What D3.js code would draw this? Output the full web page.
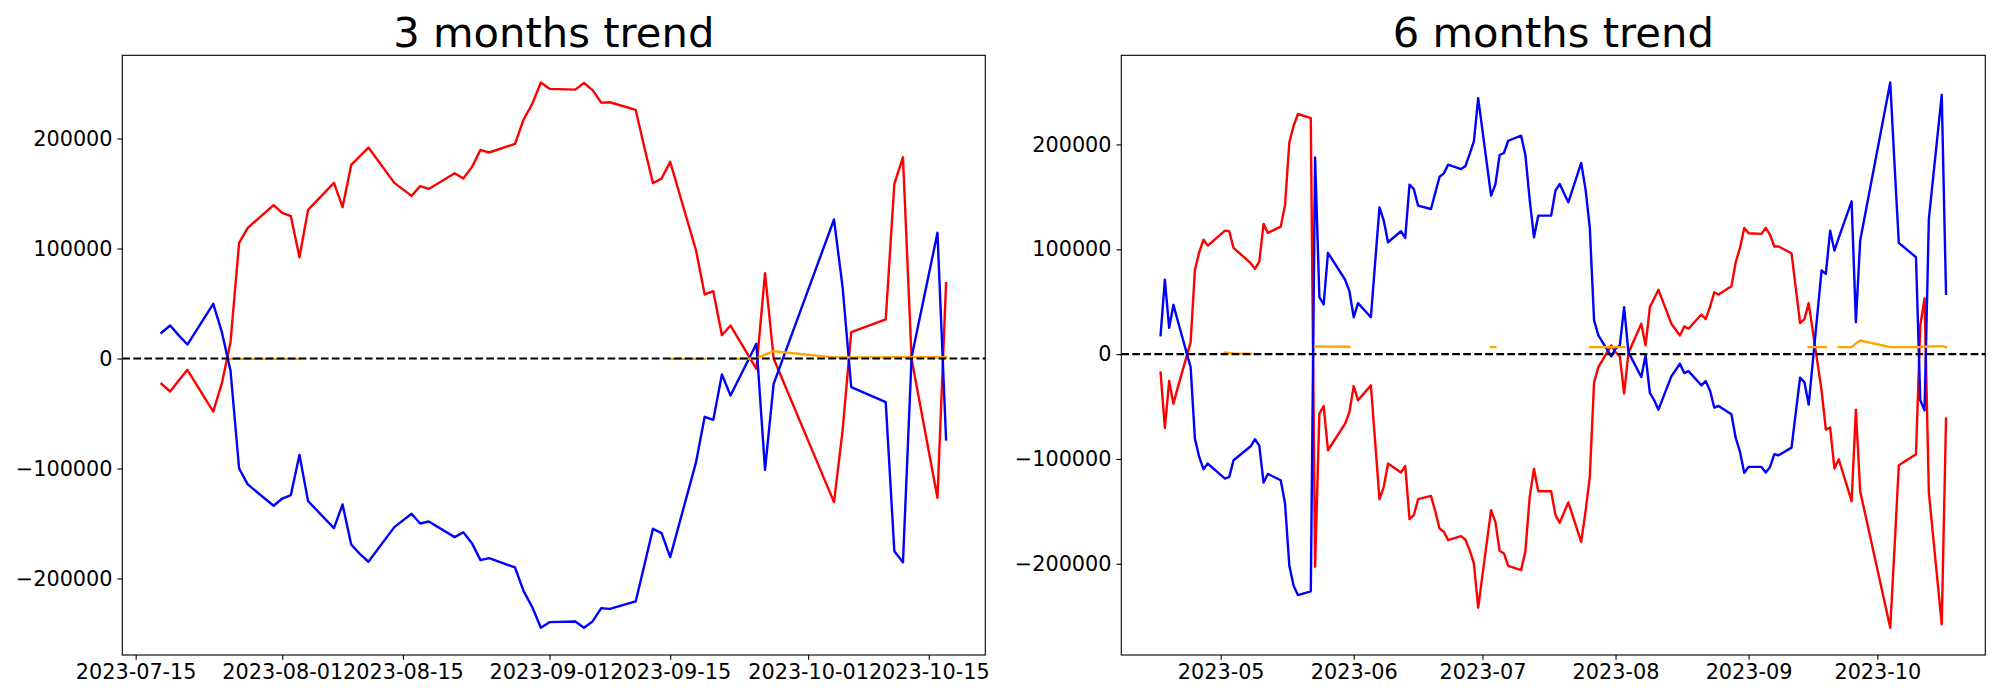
<!DOCTYPE html>
<html><head><meta charset="utf-8">
<script src="https://cdn.jsdelivr.net/npm/d3@7"></script>
<style>body{margin:0;background:#fff}svg{display:block}</style>
</head><body><svg id="c" width="2000" height="700"></svg>
<script>
// ---------- 3 months data ----------
const dates3 = ["2023-07-18","2023-07-19","2023-07-20","2023-07-21","2023-07-24","2023-07-25","2023-07-26","2023-07-27","2023-07-28","2023-07-31",
"2023-08-01","2023-08-02","2023-08-03","2023-08-04","2023-08-07","2023-08-08","2023-08-09","2023-08-10","2023-08-11","2023-08-14","2023-08-16","2023-08-17","2023-08-18","2023-08-21","2023-08-22","2023-08-23","2023-08-24","2023-08-25","2023-08-28","2023-08-29","2023-08-30","2023-08-31",
"2023-09-01","2023-09-04","2023-09-05","2023-09-06","2023-09-07","2023-09-08","2023-09-11","2023-09-12","2023-09-13","2023-09-14","2023-09-15","2023-09-18","2023-09-19","2023-09-20","2023-09-21","2023-09-22","2023-09-25","2023-09-26","2023-09-27",
"2023-10-04","2023-10-05","2023-10-06","2023-10-10","2023-10-11","2023-10-12","2023-10-13","2023-10-16","2023-10-17"];
const red3 = [-23000,-30000,-20000,-10300,-48200,-22400,14800,105200,118800,139400,
132400,129400,92100,135200,159700,137600,176000,183900,191800,159700,147900,156700,154200,168500,163600,174000,189700,187300,195200,217300,231500,250900,
245200,244500,250600,244000,232700,233000,226000,192000,159400,163600,178800,98200,58200,61200,21200,30000,-9400,77600,0,
-130600,-65400,23900,35500,158800,183000,-500,-126600,68500];
const blue3 = [23400,30000,21000,12700,49700,23900,-10900,-100000,-114500,-133900,
-127300,-124200,-87600,-129700,-154200,-132700,-169100,-177600,-184800,-153300,-141200,-150000,-148200,-162400,-157900,-167900,-183300,-181500,-190000,-211500,-226000,-244800,
-239700,-239100,-244800,-239100,-227000,-227600,-220900,-188000,-154800,-158800,-180600,-94200,-53000,-55800,-14500,-33600,13400,-101200,-23000,
126400,64800,-26100,-39700,-175200,-185200,1200,114300,-73600];
const orange3 = [null,null,null,null,null,null,-300,-300,-300,-300,
-300,-300,-300,null,null,null,null,null,null,null,null,null,null,null,null,null,null,null,null,null,null,null,
null,null,null,null,null,null,null,null,null,null,-300,-300,-300,null,null,-300,0,3500,6600,
1000,1000,1000,1000,1300,1300,1300,1300,1300];
const xTicks3 = ["2023-07-15","2023-08-01","2023-08-15","2023-09-01","2023-09-15","2023-10-01","2023-10-15"];

// ---------- 6 months data ----------
const dates6 = ["2023-04-17","2023-04-18","2023-04-19","2023-04-20","2023-04-21","2023-04-24","2023-04-25","2023-04-26","2023-04-27","2023-04-28",
"2023-05-02","2023-05-03","2023-05-04","2023-05-08","2023-05-09","2023-05-10","2023-05-11","2023-05-12","2023-05-15","2023-05-16","2023-05-17","2023-05-18","2023-05-19","2023-05-22","2023-05-23","2023-05-24","2023-05-25","2023-05-26","2023-05-30","2023-05-31",
"2023-06-01","2023-06-02","2023-06-05","2023-06-07","2023-06-08","2023-06-09","2023-06-12","2023-06-13","2023-06-14","2023-06-15","2023-06-16","2023-06-19","2023-06-20","2023-06-21","2023-06-22","2023-06-23","2023-06-26","2023-06-27","2023-06-28","2023-06-29","2023-06-30",
"2023-07-03","2023-07-04","2023-07-05","2023-07-06","2023-07-07","2023-07-10","2023-07-11","2023-07-12","2023-07-13","2023-07-14","2023-07-17","2023-07-18","2023-07-19","2023-07-20","2023-07-21","2023-07-24","2023-07-25","2023-07-26","2023-07-27","2023-07-28","2023-07-31",
"2023-08-01","2023-08-02","2023-08-03","2023-08-04","2023-08-07","2023-08-08","2023-08-09","2023-08-10","2023-08-11","2023-08-14","2023-08-16","2023-08-17","2023-08-18","2023-08-21","2023-08-22","2023-08-23","2023-08-24","2023-08-25","2023-08-28","2023-08-29","2023-08-30","2023-08-31",
"2023-09-01","2023-09-04","2023-09-05","2023-09-06","2023-09-07","2023-09-08","2023-09-11","2023-09-12","2023-09-13","2023-09-14","2023-09-15","2023-09-18","2023-09-19","2023-09-20","2023-09-21","2023-09-22","2023-09-25","2023-09-26","2023-09-27",
"2023-10-04","2023-10-05","2023-10-06","2023-10-10","2023-10-11","2023-10-12","2023-10-13","2023-10-16","2023-10-17"];
const red6 = [-17700,-70500,-25700,-47300,-32000,11400,80400,97100,109200,103500,
117800,117200,101300,86700,81300,88300,124200,115600,121600,142300,201900,217800,229000,225100,-202900,-56800,-49500,-91700,-66300,-55200,
-30500,-44100,-29800,-138400,-126600,-104400,-113000,-106700,-157400,-153600,-138400,-135200,-150000,-166300,-169500,-177400,-173600,-176800,-187000,-199600,-241900,
-148900,-160000,-187600,-190100,-201900,-206000,-187900,-136200,-109500,-130800,-130800,-153600,-160900,-151000,-141500,-179000,-150500,-117100,-26700,-12400,8300,
1900,-2000,-37700,1000,29000,8300,44800,53000,61300,29000,17800,26400,24200,37800,33300,44800,59000,56900,64800,87600,101300,120400,
115200,114700,120400,113700,102600,102600,96200,62900,29500,33300,48600,-34600,-72000,-70100,-109100,-100300,-140300,-53000,-130800,
-261000,-185000,-106000,-95500,27300,53300,-132000,-257700,-61500];
const blue6 = [18100,70900,25100,47000,31800,-12400,-80600,-98100,-109800,-104400,
-118700,-117100,-101200,-87900,-81200,-87300,-122500,-114300,-120300,-142500,-201900,-220900,-229800,-226300,187600,54300,47300,96600,70900,60000,
35200,48600,35200,140000,127300,106700,117200,110800,161600,157500,141600,138400,153800,169200,172400,180700,176500,179100,190800,202900,244200,
151100,161600,189900,191800,203500,208300,189900,147300,111400,132100,132100,155900,162300,153500,144800,182300,157500,121000,32100,17800,-2200,
5100,8300,44800,1900,-21900,-1200,-37100,-44000,-53000,-21200,-9200,-18100,-16200,-29800,-25700,-34600,-51000,-49500,-57400,-80000,-93300,-113300,
-107600,-107600,-113000,-107600,-95500,-96500,-89200,-55800,-22500,-26700,-48200,79700,76600,117800,98800,110800,145700,30500,108300,
259000,181300,106100,92400,-44100,-53600,128900,247300,57500];
const orange6 = [null,null,null,null,null,null,null,null,null,null,
1300,1000,700,400,null,null,null,null,null,null,null,null,null,null,7400,7300,7200,7100,7000,6800,
null,null,null,null,null,null,null,null,null,null,null,null,null,null,null,null,null,null,null,null,null,
6700,6700,null,null,null,null,null,null,null,null,null,null,null,null,null,null,null,6700,6700,6700,6700,
6700,6700,6700,null,null,null,null,null,null,null,null,null,null,null,null,null,null,null,null,null,null,null,
null,null,null,null,null,null,null,null,null,null,6700,6700,6700,null,null,6700,6700,10000,13000,
6700,6700,6700,6700,6800,7000,7200,7600,6800];
const xTicks6 = ["2023-05-01","2023-06-01","2023-07-01","2023-08-01","2023-09-01","2023-10-01"];

const yTicks = [-200000,-100000,0,100000,200000];
const titles = ["3 months trend","6 months trend"];

// ---------- drawing ----------
const parse = d3.timeParse("%Y-%m-%d");
const svg = d3.select("#c");
const FONT = "DejaVu Sans, sans-serif";
const AX_TOP = 55.3, AX_BOTTOM = 655;
const LW = 2.4;
const panels = [
  {title: titles[0], dates: dates3, red: red3, blue: blue3, orange: orange3, ticks: xTicks3, fmt: "%Y-%m-%d", left: 122.3, right: 985.3},
  {title: titles[1], dates: dates6, red: red6, blue: blue6, orange: orange6, ticks: xTicks6, fmt: "%Y-%m", left: 1121.3, right: 1985.3}
];
const minus = v => v < 0 ? "\u2212" + Math.abs(v) : String(v);

panels.forEach((p, i) => {
  const t = p.dates.map(parse);
  const t0 = t[0], t1 = t[t.length - 1];
  const tp = (t1 - t0) * 0.05;
  const x = d3.scaleTime().domain([new Date(+t0 - tp), new Date(+t1 + tp)]).range([p.left, p.right]);
  const all = p.red.concat(p.blue, p.orange.filter(v => v != null));
  const lo = d3.min(all), hi = d3.max(all), r = hi - lo;
  const y = d3.scaleLinear().domain([lo - 0.05 * r, hi + 0.05 * r]).range([AX_BOTTOM, AX_TOP]);

  const g = svg.append("g");
  const cid = "clip" + i;
  svg.append("clipPath").attr("id", cid).append("rect")
    .attr("x", p.left).attr("y", AX_TOP).attr("width", p.right - p.left).attr("height", AX_BOTTOM - AX_TOP);
  const plot = g.append("g").attr("clip-path", `url(#${cid})`);

  const line = d3.line().defined(d => d.v != null).x(d => x(d.t)).y(d => y(d.v));
  const series = [[p.red, "#ff0000"], [p.blue, "#0000ff"], [p.orange, "#ffa500"]];
  series.forEach(([vals, col]) => {
    plot.append("path").datum(vals.map((v, k) => ({t: t[k], v})))
      .attr("d", line).attr("fill", "none").attr("stroke", col)
      .attr("stroke-width", LW).attr("stroke-linejoin", "round").attr("stroke-linecap", "square");
  });
  plot.append("line").attr("x1", p.left).attr("x2", p.right).attr("y1", y(0)).attr("y2", y(0))
    .attr("stroke", "#000").attr("stroke-width", 2.2).attr("stroke-dasharray", "7.7,3.33");

  const xa = g.append("g").attr("transform", `translate(0,${AX_BOTTOM})`)
    .call(d3.axisBottom(x).tickValues(p.ticks.map(parse)).tickFormat(d3.timeFormat(p.fmt)).tickSize(4.86).tickPadding(4.86));
  const ya = g.append("g").attr("transform", `translate(${p.left},0)`)
    .call(d3.axisLeft(y).tickValues(yTicks).tickFormat(minus).tickSize(4.86).tickPadding(4.86));
  [xa, ya].forEach(a => {
    a.select(".domain").remove();
    a.selectAll(".tick line").attr("stroke", "#000").attr("stroke-width", 1.11);
    a.selectAll(".tick text").attr("fill", "#000").style("font-family", FONT).style("font-size", "20.8px");
  });
  g.append("rect").attr("x", p.left).attr("y", AX_TOP).attr("width", p.right - p.left).attr("height", AX_BOTTOM - AX_TOP)
    .attr("fill", "none").attr("stroke", "#000").attr("stroke-width", 1.11);

  g.append("text").attr("x", (p.left + p.right) / 2).attr("y", 47).attr("text-anchor", "middle")
    .style("font-family", FONT).style("font-size", "41.7px").attr("fill", "#000").text(p.title);
});
</script></body></html>
